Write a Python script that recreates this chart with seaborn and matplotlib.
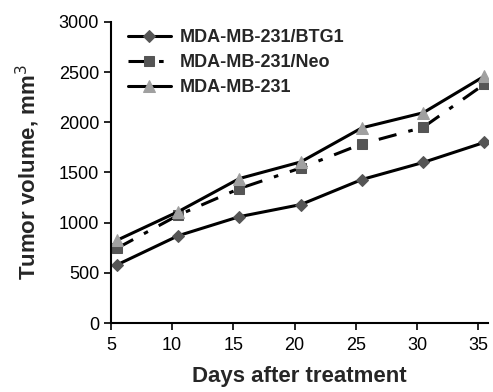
import matplotlib
matplotlib.use("Agg")
import matplotlib.pyplot as plt
import seaborn as sns
import pandas as pd

days = [5.5, 10.5, 15.5, 20.5, 25.5, 30.5, 35.5]
btg1 = [580, 870, 1060, 1180, 1430, 1600, 1800]
neo = [745, 1075, 1340, 1545, 1785, 1950, 2380]
parental = [825, 1110, 1440, 1605, 1945, 2095, 2460]
labels = ['MDA-MB-231/BTG1', 'MDA-MB-231/Neo', 'MDA-MB-231']

sns.set_style('ticks')
plt.rcParams['font.family'] = ['Liberation Sans', 'DejaVu Sans']

fig, ax = plt.subplots(figsize=(4.93, 3.92), dpi=100)
fig.subplots_adjust(left=0.225, right=0.99, bottom=0.176, top=0.944)

# line styles per series
styles = [
    dict(marker='D', color='black', mfc='#555555', mec='#555555', ms=6, ls='-'),
    dict(marker='s', color='black', mfc='#555555', mec='#555555', ms=7, ls=(0, (6, 4, 1.5, 4))),
    dict(marker='^', color='black', mfc='#a0a0a0', mec='#a0a0a0', ms=9, ls='-'),
]
for vals, lab, st in zip([btg1, neo, parental], labels, styles):
    df = pd.DataFrame({'day': days, 'vol': vals})
    sns.lineplot(data=df, x='day', y='vol', ax=ax, label=lab, lw=2.2,
                 color=st['color'], marker=st['marker'], markerfacecolor=st['mfc'],
                 markeredgecolor=st['mec'], markersize=st['ms'], linestyle=st['ls'])

ax.set_xlim(5, 35.8)
ax.set_ylim(0, 3000)
ax.set_xticks([5, 10, 15, 20, 25, 30, 35])
ax.set_yticks([0, 500, 1000, 1500, 2000, 2500, 3000])
ax.tick_params(labelsize=13, length=5, width=1.2, colors='black')
ax.tick_params(axis='x', pad=5)
for s in ['left', 'bottom']:
    ax.spines[s].set_linewidth(1.5)
    ax.spines[s].set_color('black')
sns.despine(ax=ax)

ax.set_xlabel('Days after treatment', fontsize=16, fontweight='bold', labelpad=9)
ax.set_ylabel('Tumor volume, mm$^3$', fontsize=16, fontweight='bold', labelpad=12)

ax.legend(loc='upper left', bbox_to_anchor=(0.025, 1.0), frameon=False,
          prop={'weight': 'bold', 'size': 13}, handlelength=2.4, handletextpad=0.5,
          labelspacing=0.45, borderaxespad=0)

fig.savefig('out.png', dpi=100)
